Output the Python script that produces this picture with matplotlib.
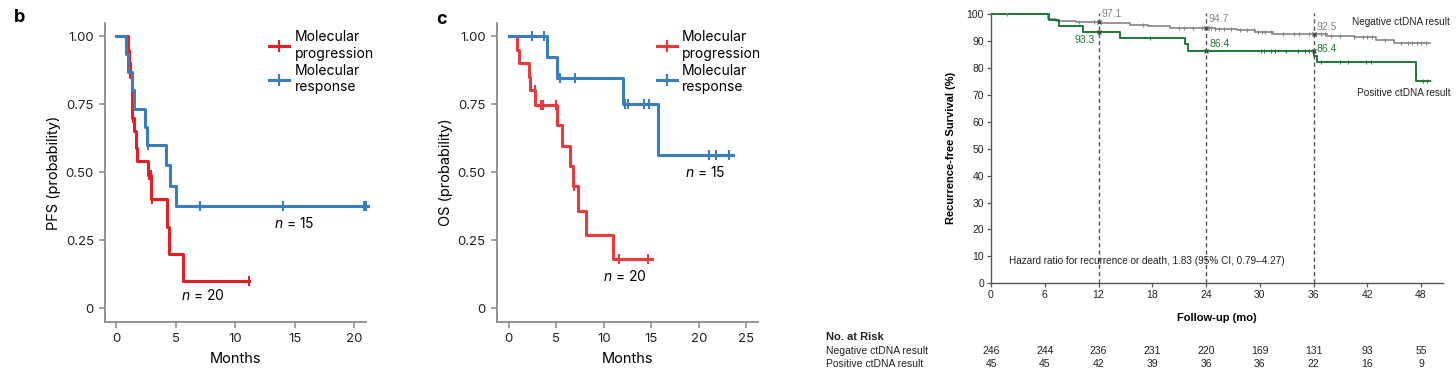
import numpy as np
import matplotlib
matplotlib.use("Agg")
import matplotlib.pyplot as plt
from matplotlib.lines import Line2D
from matplotlib import font_manager
import matplotlib.transforms as mtransforms

# ---------------- data ----------------
# Panel b: PFS
pfs_prog_t = [0, 0.95, 1.05, 1.15, 1.35, 1.45, 1.65, 1.75, 2.65, 2.95, 4.25, 4.4, 5.6, 11.2]
pfs_prog_s = [1.0, 0.95, 0.90, 0.85, 0.70, 0.65, 0.59, 0.54, 0.49, 0.40, 0.30, 0.20, 0.10, 0.10]
pfs_prog_cens = [1.4, 2.75, 2.9, 3.0, 11.2]
pfs_resp_t = [0, 0.8, 1.0, 1.3, 1.5, 2.45, 2.6, 4.15, 4.55, 5.0, 21.2]
pfs_resp_s = [1.0, 0.933, 0.867, 0.80, 0.733, 0.667, 0.60, 0.525, 0.45, 0.375, 0.375]
pfs_resp_cens = [2.65, 7.0, 14.0, 20.85, 21.0]

# Panel c: OS
os_prog_t = [0, 0.9, 1.1, 2.1, 2.25, 2.8, 5.1, 5.65, 6.45, 6.75, 7.25, 8.1, 11.0, 15.1]
os_prog_s = [1.0, 0.95, 0.90, 0.85, 0.80, 0.747, 0.672, 0.597, 0.523, 0.448, 0.358, 0.269, 0.179, 0.179]
os_prog_cens = [2.75, 3.35, 3.6, 5.0, 6.85, 11.6, 14.7]
os_resp_t = [0, 4.05, 5.05, 12.0, 15.75, 23.6]
os_resp_s = [1.0, 0.923, 0.846, 0.752, 0.564, 0.564]
os_resp_cens = [2.5, 3.75, 5.4, 7.0, 12.2, 12.6, 14.2, 14.8, 21.1, 21.85, 23.2]

# Right panel: recurrence-free survival (%)
neg_t = [0, 6.4, 7.2, 9.5, 12.3, 15.5, 17.5, 20.0, 25.0, 27.5, 29.5, 31.5, 37.5, 40.5, 43.0, 45.0, 49.0]
neg_s = [100, 98.3, 97.6, 97.1, 96.5, 96.1, 95.5, 94.7, 94.3, 93.9, 93.4, 92.5, 92.0, 91.3, 90.5, 89.4, 89.4]
neg_cens = [1.8, 9.8, 11.5, 17.0, 21.0, 21.5, 22.5, 23.5, 24.3, 24.6, 25.0, 25.4, 26.0, 26.8, 27.8,
            28.6, 29.3, 29.8, 30.2, 30.6, 31.3, 32.6, 33.8, 34.4, 35.5, 36.3, 36.8, 37.3, 38.0, 39.0,
            40.5, 41.5, 42.0, 42.5, 44.0, 45.8, 46.5, 47.0, 47.5, 48.0, 48.5]
pos_t = [0, 6.5, 7.6, 10.3, 14.4, 21.6, 22.0, 36.1, 36.4, 47.4, 49.0]
pos_s = [100, 97.8, 95.6, 93.3, 91.1, 88.8, 86.4, 84.4, 82.3, 75.1, 75.1]
pos_cens = [17.7, 30.1, 30.5, 31.3, 31.7, 32.9, 34.3, 35.1, 35.5, 36.8, 39.0, 39.9, 41.9, 42.4, 48.2, 48.7]
landmarks = [12, 24, 36]
neg_landmark_labels = ["97.1", "94.7", "92.5"]
pos_landmark_labels = ["93.3", "86.4", "86.4"]
rfs_xticks = [0, 6, 12, 18, 24, 30, 36, 42, 48]
risk_neg = [246, 244, 236, 231, 220, 169, 131, 93, 55]
risk_pos = [45, 45, 42, 39, 36, 36, 22, 16, 9]

# ---------------- style ----------------
names = {f.name for f in font_manager.fontManager.ttflist}
main_font = "Inter" if "Inter" in names else "DejaVu Sans"
narrow_font = "Liberation Sans Narrow" if "Liberation Sans Narrow" in names else "Liberation Sans"
plt.rcParams['font.family'] = [main_font, 'DejaVu Sans']
plt.rcParams['mathtext.fontset'] = 'custom'
plt.rcParams['mathtext.it'] = main_font + ':italic'
plt.rcParams['mathtext.rm'] = main_font

RED = "#e31f26"
RED_C = "#e63c40"
BLUE = "#3a7ec0"
SPINE = "#8a8a8a"
GRAY_LINE = "#858585"
GREEN = "#1d7a3a"

W, H = 1456, 377
fig = plt.figure(figsize=(W / 100, H / 100), dpi=100)


def step_val(t, s, x):
    idx = np.searchsorted(np.asarray(t), x, side='right') - 1
    return np.asarray(s)[idx]


def style_km(ax):
    for sp in ['top', 'right']:
        ax.spines[sp].set_visible(False)
    for sp in ['left', 'bottom']:
        ax.spines[sp].set_color(SPINE)
        ax.spines[sp].set_linewidth(1.3)
    ax.tick_params(colors=SPINE, labelcolor="#222222", length=4, width=1.1, labelsize=9.5, pad=4)
    ax.set_yticks([0, 0.25, 0.5, 0.75, 1.0])
    ax.set_yticklabels(['0', '0.25', '0.50', '0.75', '1.00'])
    ax.set_ylim(-0.051, 1.048)


def km(ax, t, s, cens, color, lw=2.2, ms=7):
    ax.step(t, s, where='post', color=color, lw=lw, clip_on=False, zorder=3)
    cy = [step_val(t, s, c) for c in cens]
    ax.plot(cens, cy, ls='none', marker='|', color=color, markersize=ms, mew=1.5, clip_on=False, zorder=4)


def legend(ax, c1, c2, x0):
    handles = [Line2D([0], [0], color=c1, lw=2.2, marker='|', markersize=9, mew=1.6),
               Line2D([0], [0], color=c2, lw=2.2, marker='|', markersize=9, mew=1.6)]
    ax.legend(handles, ['Molecular\nprogression', 'Molecular\nresponse'], loc='upper left',
              bbox_to_anchor=(x0, 0.975), frameon=False, fontsize=10, handlelength=1.4,
              handletextpad=0.4, labelspacing=0.25, borderaxespad=0, borderpad=0)


# ---------------- panel b ----------------
axb = fig.add_axes([105 / W, 1 - 322 / H, 261 / W, 299 / H])
style_km(axb)
km(axb, pfs_prog_t, pfs_prog_s, pfs_prog_cens, RED)
km(axb, pfs_resp_t, pfs_resp_s, pfs_resp_cens, BLUE)
axb.set_xlim(-0.95, 21.0)
axb.set_xticks([0, 5, 10, 15, 20])
axb.set_xlabel('Months', fontsize=10.5, labelpad=5)
axb.set_ylabel('PFS (probability)', fontsize=10.5, labelpad=3)
axb.text(13.3, 0.31, r'$n$ = 15', fontsize=10, va='center', ha='left')
axb.text(5.4, 0.048, r'$n$ = 20', fontsize=10, va='center', ha='left')
legend(axb, RED, BLUE, 0.63)
fig.text(14 / W, 1 - 18 / H, 'b', fontsize=13, fontweight='bold', va='center', ha='left')

# ---------------- panel c ----------------
axc = fig.add_axes([496.7 / W, 1 - 322 / H, 261 / W, 299 / H])
style_km(axc)
km(axc, os_prog_t, os_prog_s, os_prog_cens, RED_C)
km(axc, os_resp_t, os_resp_s, os_resp_cens, BLUE)
axc.set_xlim(-1.26, 26.2)
axc.set_xticks([0, 5, 10, 15, 20, 25])
axc.set_xlabel('Months', fontsize=10.5, labelpad=5)
axc.set_ylabel('OS (probability)', fontsize=10.5, labelpad=3)
axc.text(18.6, 0.497, r'$n$ = 15', fontsize=10, va='center', ha='left')
axc.text(9.97, 0.115, r'$n$ = 20', fontsize=10, va='center', ha='left')
legend(axc, RED_C, BLUE, 0.615)
fig.text(436 / W, 1 - 20 / H, 'c', fontsize=13, fontweight='bold', va='center', ha='left')

# ---------------- right panel ----------------
axr = fig.add_axes([991 / W, 1 - 283.3 / H, 452 / W, 270.6 / H])
for sp in ['top', 'right']:
    axr.spines[sp].set_visible(False)
for sp in ['left', 'bottom']:
    axr.spines[sp].set_color('#555555')
    axr.spines[sp].set_linewidth(1.0)
axr.set_xlim(0, 50.45)
axr.set_ylim(0, 100.5)
axr.set_xticks(rfs_xticks)
axr.set_yticks(np.arange(0, 101, 10))
axr.tick_params(colors='#555555', labelcolor='#222222', length=3, width=0.9, labelsize=7.5, pad=2)
for lab in axr.get_xticklabels() + axr.get_yticklabels():
    lab.set_family(narrow_font)

for xv in landmarks:
    axr.axvline(xv, ymin=0, ymax=1, color='#555555', lw=1.0, ls=(0, (3, 2.2)), zorder=1)

axr.step(neg_t, neg_s, where='post', color=GRAY_LINE, lw=1.2, zorder=3)
axr.step(pos_t, pos_s, where='post', color=GREEN, lw=1.4, zorder=3)
axr.plot(neg_cens, [step_val(neg_t, neg_s, c) for c in neg_cens], ls='none', marker='|',
         color=GRAY_LINE, markersize=3.5, mew=0.8, zorder=4)
axr.plot(pos_cens, [step_val(pos_t, pos_s, c) for c in pos_cens], ls='none', marker='|',
         color=GREEN, markersize=3.5, mew=0.8, zorder=4)
axr.plot(landmarks, [step_val(neg_t, neg_s, c - 1e-6) for c in landmarks], ls='none', marker='x',
         color='#444444', markersize=3.5, mew=0.9, zorder=5)
axr.plot(landmarks, [step_val(pos_t, pos_s, c - 1e-6) for c in landmarks], ls='none', marker='x',
         color='#444444', markersize=3.5, mew=0.9, zorder=5)

tfs = dict(fontsize=7.5, family=narrow_font)
axr.text(12.3, 100.2, neg_landmark_labels[0], color=GRAY_LINE, ha='left', va='center', **tfs)
axr.text(24.3, 98.0, neg_landmark_labels[1], color=GRAY_LINE, ha='left', va='center', **tfs)
axr.text(36.3, 95.3, neg_landmark_labels[2], color=GRAY_LINE, ha='left', va='center', **tfs)
axr.text(11.6, 90.3, pos_landmark_labels[0], color=GREEN, ha='right', va='center', **tfs)
axr.text(24.4, 88.9, pos_landmark_labels[1], color=GREEN, ha='left', va='center', **tfs)
axr.text(36.3, 87.1, pos_landmark_labels[2], color=GREEN, ha='left', va='center', **tfs)

blend = mtransforms.blended_transform_factory(axr.transAxes, axr.transData)
axr.text(1.016, 97.0, 'Negative ctDNA result', transform=blend,
         ha='right', va='center', color='#222222', clip_on=False, fontsize=7.2, family=narrow_font)
axr.text(1.016, 70.6, 'Positive ctDNA result', transform=blend,
         ha='right', va='center', color='#222222', clip_on=False, fontsize=7.2, family=narrow_font)
axr.text(2.0, 8.4, 'Hazard ratio for recurrence or death, 1.83 (95% CI, 0.79\u20134.27)',
         ha='left', va='center', color='#222222', fontsize=7.2, family=narrow_font)

axr.set_xlabel('Follow-up (mo)', fontsize=8, fontweight='bold', family=narrow_font, labelpad=9)
axr.set_ylabel('Recurrence-free Survival (%)', fontsize=8, fontweight='bold', family=narrow_font, labelpad=8)

# risk table
bt = mtransforms.blended_transform_factory(axr.transData, fig.transFigure)
fig.text(826 / W, 1 - 337 / H, 'No. at Risk', fontsize=8, fontweight='bold', family=narrow_font,
         ha='left', va='center', color='#222222')
fig.text(826 / W, 1 - 351 / H, 'Negative ctDNA result', ha='left', va='center', color='#222222', **tfs)
fig.text(826 / W, 1 - 364 / H, 'Positive ctDNA result', ha='left', va='center', color='#222222', **tfs)
for xv, a, b in zip(rfs_xticks, risk_neg, risk_pos):
    axr.text(xv, 1 - 351 / H, str(a), transform=bt, ha='center', va='center', color='#222222', clip_on=False, **tfs)
    axr.text(xv, 1 - 364 / H, str(b), transform=bt, ha='center', va='center', color='#222222', clip_on=False, **tfs)

fig.savefig('out.png', dpi=100, facecolor='white')
